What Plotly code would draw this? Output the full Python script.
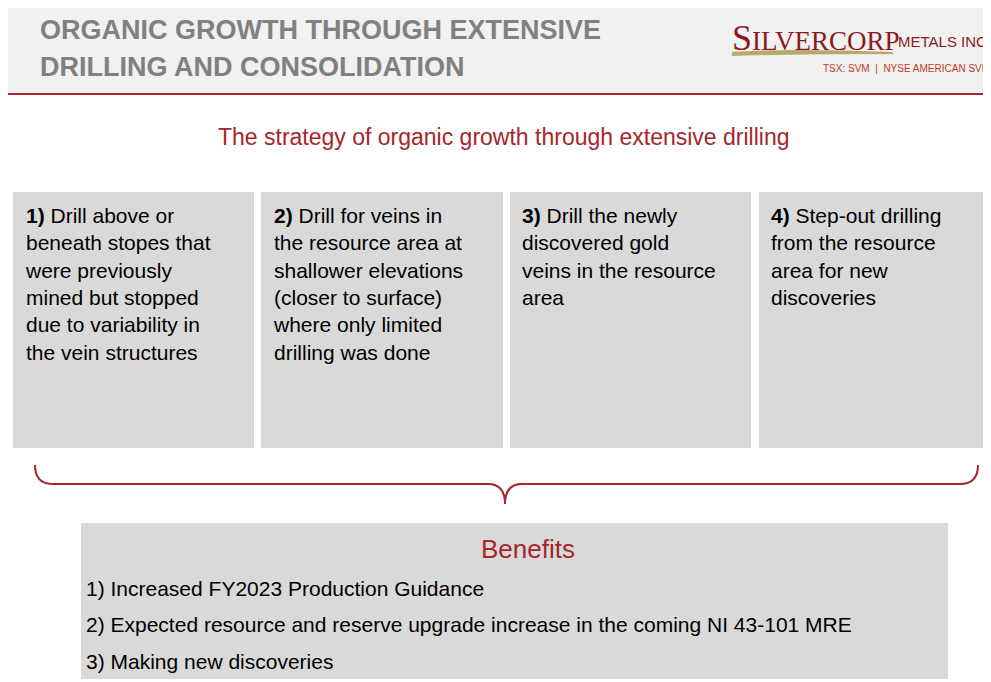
import plotly.graph_objects as go

title_lines = ["ORGANIC GROWTH THROUGH EXTENSIVE", "DRILLING AND CONSOLIDATION"]
subtitle = "The strategy of organic growth through extensive drilling"
step_nums = ["1)", "2)", "3)", "4)"]
step_texts = [
    ["Drill above or", "beneath stopes that", "were previously", "mined but stopped", "due to variability in", "the vein structures"],
    ["Drill for veins in", "the resource area at", "shallower elevations", "(closer to surface)", "where only limited", "drilling was done"],
    ["Drill the newly", "discovered gold", "veins in the resource", "area"],
    ["Step-out drilling", "from the resource", "area for new", "discoveries"],
]
benefits_title = "Benefits"
benefits = ["1) Increased FY2023 Production Guidance",
            "2) Expected resource and reserve upgrade increase in the coming NI 43-101 MRE",
            "3) Making new discoveries"]

W, H = 991, 682
RED = "#a6262b"
FONT = "Liberation Sans"
fig = go.Figure()
shapes, ann = [], []
shapes.append(dict(type="rect", x0=0, x1=W, y0=0, y1=85, fillcolor="#f1f1f1", line_width=0, layer="below"))
shapes.append(dict(type="line", x0=0, x1=W, y0=86, y1=86, line=dict(color=RED, width=2)))
for i, t in enumerate(title_lines):
    ann.append(dict(x=30, y=22 + 37 * i, text="<b>" + t + "</b>", xanchor="left", yanchor="middle",
                    font=dict(family=FONT, size=27, color="#808080")))
ann.append(dict(x=722, y=30, text="S<span style='font-size:27px'>ILVERCORP</span>", xanchor="left", yanchor="middle",
                font=dict(family="Liberation Serif", size=36, color="#8b1a1e")))
ann.append(dict(x=888, y=33, text="METALS INC.", xanchor="left", yanchor="middle",
                font=dict(family=FONT, size=15, color="#8b1a1e")))
shapes.append(dict(type="path", path="M 724 44 Q 780 40 885 44 L 885 46 Q 780 46 724 48 Z",
                   fillcolor="#b8a96a", line_width=0))
ann.append(dict(x=984, y=60, text="TSX: SVM  |  NYSE AMERICAN SVM", xanchor="right", yanchor="middle",
                font=dict(family=FONT, size=10, color="#c0392b")))
ann.append(dict(x=495, y=129, text=subtitle, xanchor="center", yanchor="middle",
                font=dict(family=FONT, size=23, color=RED)))
xs = [(5, 246), (253, 495), (502, 743), (751, 991)]
for (x0, x1), n, lines in zip(xs, step_nums, step_texts):
    shapes.append(dict(type="rect", x0=x0, x1=x1, y0=184, y1=440, fillcolor="#d9d9d9", line_width=0, layer="below"))
    txt = "<b>" + n + "</b> " + "<br>".join(lines)
    ann.append(dict(x=x0 + 10, y=194, text=txt, xanchor="left", yanchor="top", align="left",
                    font=dict(family=FONT, size=21, color="black")))
shapes.append(dict(type="path",
                   path="M 27 457 Q 27 476 45 476 L 480 476 Q 497 476 497 496 Q 497 476 514 476 L 952 476 Q 970 476 970 457",
                   line=dict(color=RED, width=2)))
shapes.append(dict(type="rect", x0=73, x1=940, y0=515, y1=671, fillcolor="#d9d9d9", line_width=0, layer="below"))
ann.append(dict(x=520, y=541, text=benefits_title, xanchor="center", yanchor="middle",
                font=dict(family=FONT, size=26, color=RED)))
for i, b in enumerate(benefits):
    ann.append(dict(x=76, y=580 + 36.5 * i, text=b, xanchor="left", yanchor="middle",
                    font=dict(family=FONT, size=21, color="black")))
for a in ann:
    a.update(xref="x", yref="y", showarrow=False)
for s in shapes:
    s.update(xref="x", yref="y")
fig.update_layout(width=W, height=H, margin=dict(l=0, r=0, t=0, b=0), plot_bgcolor="white", paper_bgcolor="white",
                  shapes=shapes, annotations=ann, showlegend=False,
                  xaxis=dict(range=[0, W], visible=False, fixedrange=True),
                  yaxis=dict(range=[H, 0], visible=False, fixedrange=True))
fig.write_html("out.html")
